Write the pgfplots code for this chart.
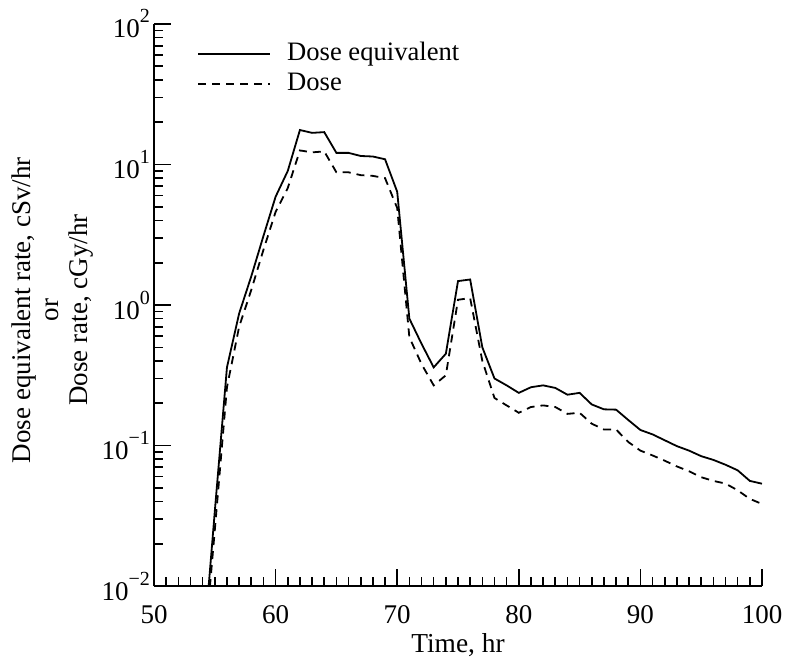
\documentclass[border=0pt]{standalone}
\usepackage{fontspec}
\setmainfont{Liberation Serif}
\usepackage{pgfplots}
\pgfplotsset{compat=1.18}
\newcommand{\ex}[1]{\raisebox{7.5pt}{\fontsize{10pt}{12pt}\selectfont #1}}
\begin{document}
\begin{tikzpicture}
\begin{axis}[
  name=ax,
  scale only axis,
  width=304pt, height=281pt,
  ymode=log,
  xmin=50, xmax=100, ymin=0.01, ymax=100,
  axis x line=bottom, axis y line=left,
  axis line style={-, line width=1pt},
  tick align=inside,
  major tick length=8.5pt, minor tick length=4.5pt,
  every tick/.style={black, line width=0.8pt},
  xtick={50,60,70,80,90,100},
  minor x tick num=9,
  ytick={0.01,0.1,1,10,100},
  yticklabels={10\ex{−2},10\ex{−1},10\ex{0},10\ex{1},10\ex{2}},
  minor ytick={0.02,0.03,0.04,0.05,0.06,0.07,0.08,0.09,0.2,0.3,0.4,0.5,0.6,0.7,0.8,0.9,2,3,4,5,6,7,8,9,20,30,40,50,60,70,80,90},
  /pgf/number format/assume math mode=true,
  font=\fontsize{13.5pt}{14.4pt}\selectfont,
  ticklabel style={font=\fontsize{13.5pt}{14.4pt}\selectfont},
  xticklabel style={yshift=-6pt},
  yticklabel style={xshift=1.5pt},
  xlabel={Time, hr},
  xlabel style={at={(axis description cs:0.5,-0.1174)}, anchor=base, inner sep=0pt, font=\fontsize{13.7pt}{14.4pt}\selectfont},
  ylabel={Dose equivalent rate, cSv/hr\\or\\Dose rate, cGy/hr},
  ylabel style={align=center, at={(axis description cs:-0.0987,0.491)}, anchor=south, inner sep=0pt, font=\fontsize{13.5pt}{14.4pt}\selectfont},
  legend style={draw=none, fill=none, at={(rel axis cs:0.0707,0.9698)}, anchor=north west, inner sep=0pt, row sep=2.5pt,
     nodes={inner sep=0pt, text height=9.5pt, text depth=3pt, font=\fontsize{13.3pt}{14.4pt}\selectfont}},
  legend cell align=left,
  legend image code/.code={\draw[#1] (0pt,0pt) -- (36pt,0pt); \path (44pt,0pt);},
  clip=true,
]
\addplot[black, line width=0.9pt] coordinates {
(54,0.003)(55,0.034)(56,0.36)(57,0.87)(58,1.6)(59,3.1)(60,5.9)(61,9.0)(62,17.6)(63,16.8)(64,17.0)(65,12.1)(66,12.1)(67,11.5)(68,11.4)(69,10.9)(70,6.4)(71,0.80)(72,0.53)(73,0.36)(74,0.45)(75,1.48)(76,1.52)(77,0.50)(78,0.30)(79,0.268)(80,0.237)(81,0.26)(82,0.268)(83,0.257)(84,0.23)(85,0.237)(86,0.196)(87,0.181)(88,0.18)(89,0.152)(90,0.129)(91,0.12)(92,0.109)(93,0.099)(94,0.092)(95,0.084)(96,0.079)(97,0.073)(98,0.0666)(99,0.056)(100,0.0535)
};
\addlegendentry{Dose equivalent}
\addplot[black, line width=0.9pt, dash pattern=on 4pt off 3pt] coordinates {
(54,0.0025)(55,0.025)(56,0.26)(57,0.70)(58,1.28)(59,2.47)(60,4.6)(61,6.8)(62,12.6)(63,12.2)(64,12.4)(65,8.8)(66,8.8)(67,8.4)(68,8.3)(69,8.0)(70,4.9)(71,0.59)(72,0.38)(73,0.268)(74,0.316)(75,1.09)(76,1.12)(77,0.40)(78,0.218)(79,0.193)(80,0.171)(81,0.188)(82,0.193)(83,0.188)(84,0.168)(85,0.171)(86,0.143)(87,0.13)(88,0.13)(89,0.106)(90,0.092)(91,0.085)(92,0.078)(93,0.071)(94,0.0656)(95,0.0595)(96,0.056)(97,0.0536)(98,0.048)(99,0.0417)(100,0.0384)
};
\addlegendentry{Dose}
\end{axis}
\path ([xshift=-77pt, yshift=-36pt]ax.south west) rectangle ([xshift=13.5pt, yshift=12pt]ax.north east);
\end{tikzpicture}
\end{document}
